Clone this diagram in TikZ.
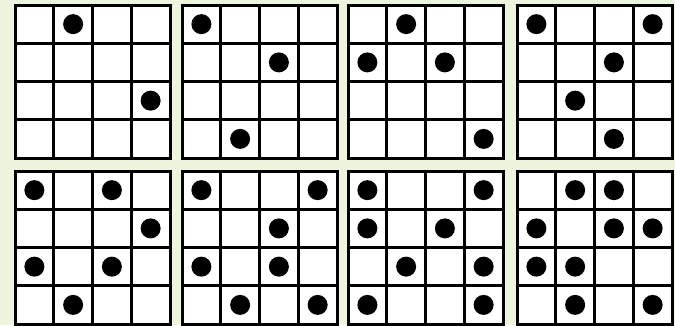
\documentclass[tikz,border=0pt]{standalone}
\definecolor{bg}{RGB}{238,245,222}
\tikzset{gridline/.style={line width=3pt,draw=black},
  cellfill/.style={fill=white},
  dot/.style={fill=black}}
\begin{document}
\begin{tikzpicture}[x=1pt,y=-1pt]
\fill[bg] (0,0) rectangle (675,325);
\useasboundingbox (0,0) rectangle (675,325);
\def\cw{38.75}
\def\ch{38.25}
\foreach \gx/\gy/\dl in {
  15/5/{1/0,3/2},
  182/5/{0/0,2/1,1/3},
  348/5/{1/0,0/1,2/1,3/3},
  517/5/{0/0,3/0,2/1,1/2,2/3},
  15/171/{0/0,2/0,3/1,0/2,2/2,1/3},
  182/171/{0/0,3/0,2/1,0/2,2/2,1/3,3/3},
  348/171/{0/0,3/0,0/1,2/1,1/2,3/2,0/3,3/3},
  517/171/{1/0,2/0,0/1,2/1,3/1,0/2,1/2,1/3,3/3}}
{
  \fill[cellfill] (\gx,\gy) rectangle ++(4*\cw,4*\ch);
  \foreach \k in {1,2,3} {
    \draw[gridline] (\gx+\k*\cw,\gy) -- ++(0,4*\ch);
    \draw[gridline] (\gx,\gy+\k*\ch) -- ++(4*\cw,0);
  }
  \draw[gridline] (\gx,\gy) rectangle ++(4*\cw,4*\ch);
  \foreach \c/\r in \dl {
    \fill[dot] (\gx+\c*\cw+0.5*\cw,\gy+\r*\ch+0.5*\ch) circle (10pt);
  }
}
\end{tikzpicture}
\end{document}
